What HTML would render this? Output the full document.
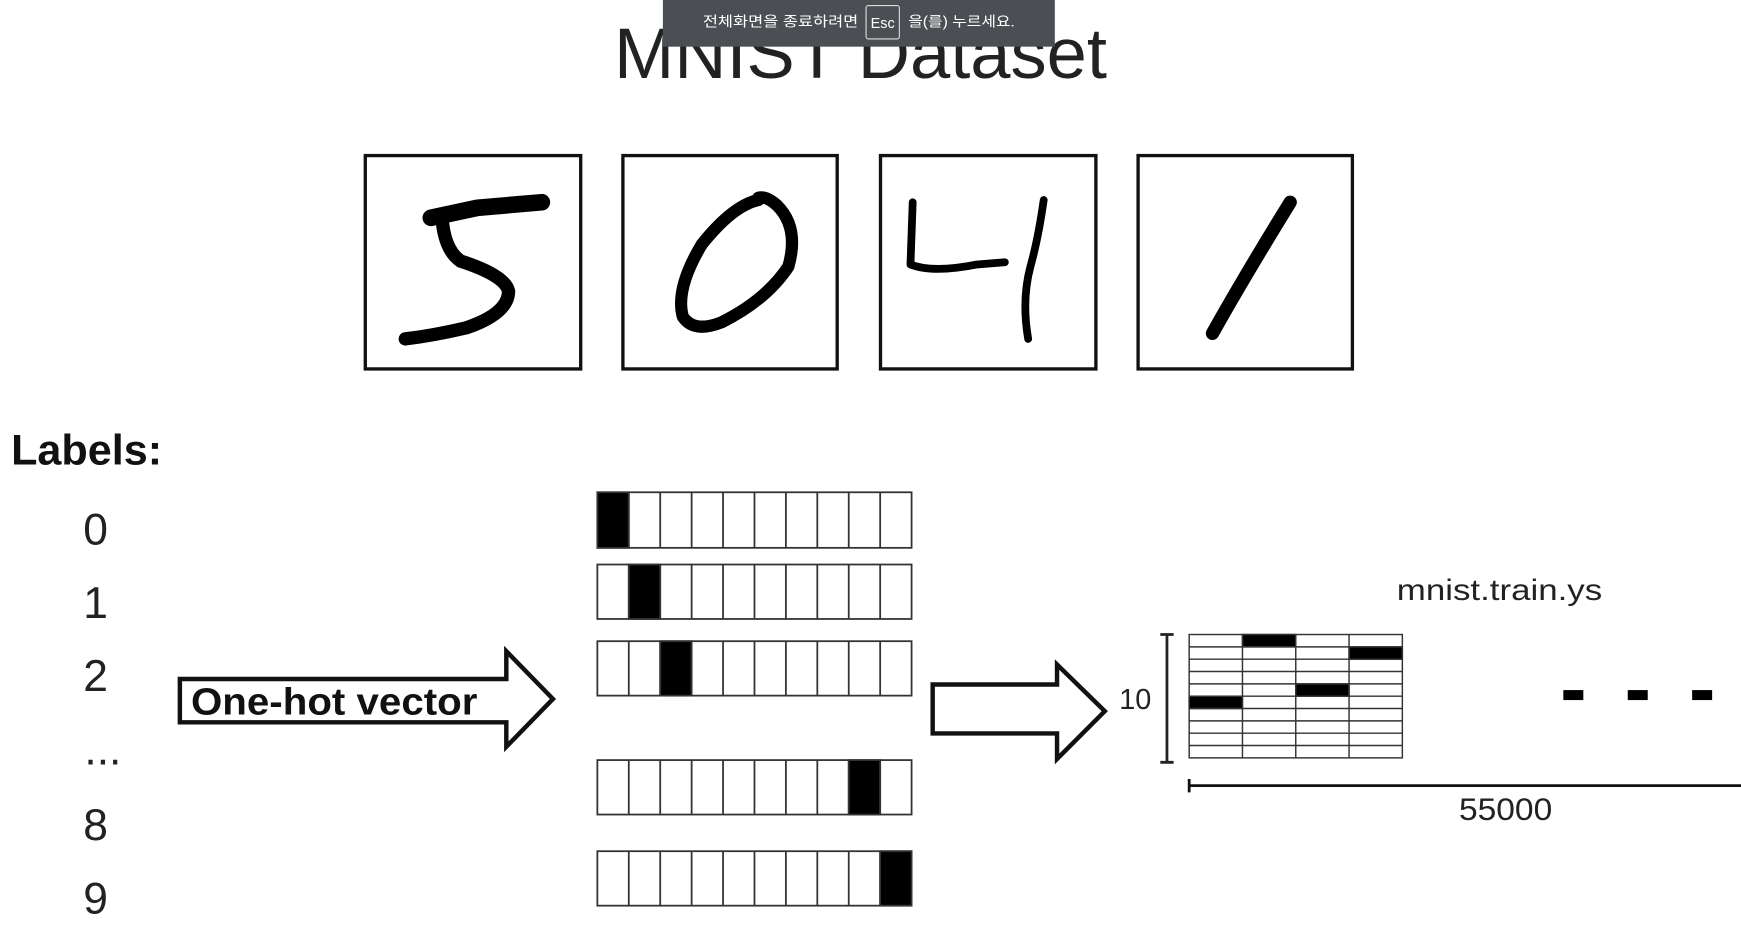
<!DOCTYPE html>
<html><head><meta charset="utf-8"><style>
html,body{margin:0;padding:0;background:#fff;}
svg{display:block}
</style></head><body>
<svg width="1741" height="939" viewBox="0 0 1568 845" preserveAspectRatio="none" xmlns="http://www.w3.org/2000/svg">
<rect width="1568" height="845" fill="#fff"/>
<text x="553" y="70" textLength="444" lengthAdjust="spacingAndGlyphs" font-family="Liberation Sans, sans-serif" font-size="64" fill="#222">MNIST Dataset</text>
<rect x="597" y="0" width="353" height="42" fill="#4b4e53"/>
<text x="633" y="24" textLength="140" lengthAdjust="spacingAndGlyphs" font-family="Liberation Sans, Noto Sans CJK KR, sans-serif" font-size="13" fill="#fff">전체화면을 종료하려면</text>
<rect x="780" y="5" width="30" height="30" fill="none" stroke="#ddd" stroke-width="1" rx="2"/>
<text x="795" y="25" text-anchor="middle" font-family="Liberation Sans, sans-serif" font-size="13" fill="#fff">Esc</text>
<text x="818" y="24" textLength="96" lengthAdjust="spacingAndGlyphs" font-family="Liberation Sans, Noto Sans CJK KR, sans-serif" font-size="13" fill="#fff">을(를) 누르세요.</text>
<g fill="none" stroke="#111" stroke-width="3">
<rect x="329" y="140" width="194" height="192"/>
<rect x="561" y="140" width="193" height="192"/>
<rect x="793" y="140" width="194" height="192"/>
<rect x="1025" y="140" width="193" height="192"/>
</g>
<g fill="none" stroke="#000" stroke-linecap="round" stroke-linejoin="round">
<path d="M388 196 L430 187 L488 182" stroke-width="15"/>
<path d="M398 195 Q400 225 415 235 Q455 248 458 262 Q458 282 420 295 Q390 302 365 305" stroke-width="12"/>
<path d="M683 180 Q660 185 632 220 Q608 260 615 285 Q625 300 650 290 Q690 270 710 240 Q720 205 700 185 Q690 176 683 178" stroke-width="11"/>
<path d="M822 182 L820 238 Q840 246 880 238 L905 236" stroke-width="7"/>
<path d="M940 180 Q935 215 928 240 Q920 270 926 305" stroke-width="7"/>
<path d="M1162 182 Q1120 250 1092 300" stroke-width="12"/>
</g>
<text x="10" y="418" textLength="136" lengthAdjust="spacingAndGlyphs" font-family="Liberation Sans, sans-serif" font-weight="bold" font-size="38" fill="#111">Labels:</text>
<g font-family="Liberation Sans, sans-serif" font-size="40" fill="#222">
<text x="75" y="490">0</text><text x="75" y="556">1</text><text x="75" y="622">2</text>
<text x="76" y="688">...</text><text x="75" y="756">8</text><text x="75" y="822">9</text>
</g>
<g stroke="#333" stroke-width="1.6">
<g transform="translate(538,443)">
<rect width="283" height="50" fill="#fff"/><rect width="28.3" height="50" fill="#000"/>
<path d="M28.3 0V50M56.6 0V50M84.9 0V50M113.2 0V50M141.5 0V50M169.8 0V50M198.1 0V50M226.4 0V50M254.7 0V50"/></g>
<g transform="translate(538,508)">
<rect width="283" height="49" fill="#fff"/><rect x="28.3" width="28.3" height="49" fill="#000"/>
<path d="M28.3 0V49M56.6 0V49M84.9 0V49M113.2 0V49M141.5 0V49M169.8 0V49M198.1 0V49M226.4 0V49M254.7 0V49"/></g>
<g transform="translate(538,577)">
<rect width="283" height="49" fill="#fff"/><rect x="56.6" width="28.3" height="49" fill="#000"/>
<path d="M28.3 0V49M56.6 0V49M84.9 0V49M113.2 0V49M141.5 0V49M169.8 0V49M198.1 0V49M226.4 0V49M254.7 0V49"/></g>
<g transform="translate(538,684)">
<rect width="283" height="49" fill="#fff"/><rect x="226.4" width="28.3" height="49" fill="#000"/>
<path d="M28.3 0V49M56.6 0V49M84.9 0V49M113.2 0V49M141.5 0V49M169.8 0V49M198.1 0V49M226.4 0V49M254.7 0V49"/></g>
<g transform="translate(538,766)">
<rect width="283" height="49" fill="#fff"/><rect x="254.7" width="28.3" height="49" fill="#000"/>
<path d="M28.3 0V49M56.6 0V49M84.9 0V49M113.2 0V49M141.5 0V49M169.8 0V49M198.1 0V49M226.4 0V49M254.7 0V49"/></g>
</g>
<path d="M162 611 H456 V586 L498 629 L456 672 V650 H162 Z" fill="#fff" stroke="#111" stroke-width="4"/>
<text x="172" y="643" textLength="258" lengthAdjust="spacingAndGlyphs" font-family="Liberation Sans, sans-serif" font-weight="bold" font-size="34" fill="#111">One-hot vector</text>
<path d="M840 616 H952 V598 L995 640 L952 683 V660 H840 Z" fill="#fff" stroke="#111" stroke-width="4"/>
<text x="1008" y="638" font-family="Liberation Sans, sans-serif" font-size="26" fill="#222">10</text>
<path d="M1051 571V686M1045 571H1057M1045 686H1057" stroke="#222" stroke-width="2.5"/>
<g transform="translate(1071,571)" stroke="#333" stroke-width="1.3">
<rect width="192" height="111" fill="#fff"/>
<rect x="48" y="0" width="48" height="11.1" fill="#000"/>
<rect x="144" y="11.1" width="48" height="11.1" fill="#000"/>
<rect x="96" y="44.4" width="48" height="11.1" fill="#000"/>
<rect x="0" y="55.5" width="48" height="11.1" fill="#000"/>
<path d="M48 0V111M96 0V111M144 0V111M0 11.1H192M0 22.2H192M0 33.3H192M0 44.4H192M0 55.5H192M0 66.6H192M0 77.7H192M0 88.8H192M0 99.9H192"/>
</g>
<text x="1258" y="540" textLength="185" lengthAdjust="spacingAndGlyphs" font-family="Liberation Sans, sans-serif" font-size="27" fill="#222">mnist.train.ys</text>
<g fill="#000"><rect x="1408" y="621" width="18" height="9"/><rect x="1466" y="621" width="18" height="9"/><rect x="1524" y="621" width="18" height="9"/></g>
<path d="M1071 707H1568M1071 701V713" stroke="#111" stroke-width="2.5"/>
<text x="1314" y="738" textLength="84" lengthAdjust="spacingAndGlyphs" font-family="Liberation Sans, sans-serif" font-size="28" fill="#222">55000</text>
</svg>
</body></html>
